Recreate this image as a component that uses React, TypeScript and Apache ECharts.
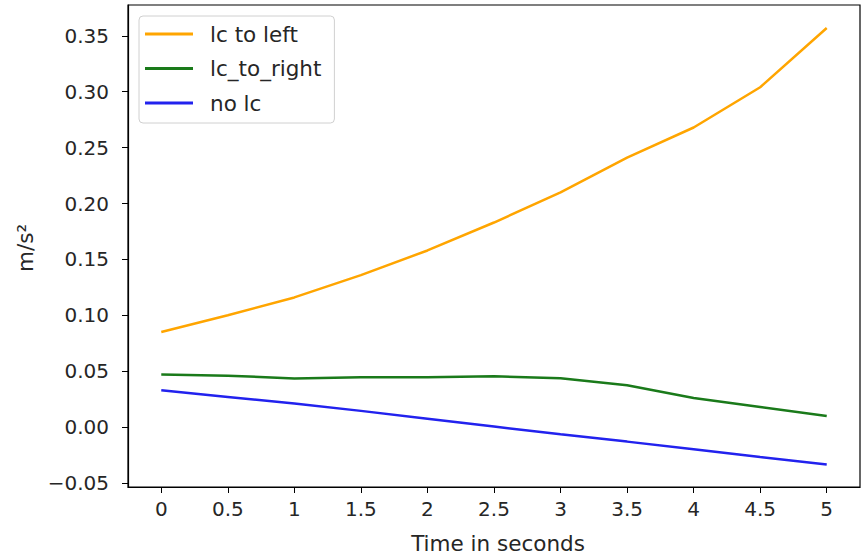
import React, { useEffect, useRef } from "react";
import * as echarts from "echarts";

const times = [0, 0.5, 1, 1.5, 2, 2.5, 3, 3.5, 4, 4.5, 5];
const lcToLeft = [0.085, 0.100, 0.116, 0.136, 0.158, 0.183, 0.210, 0.241, 0.268, 0.304, 0.357];
const lcToRight = [0.047, 0.046, 0.0435, 0.0445, 0.0445, 0.0455, 0.0437, 0.0375, 0.026, 0.018, 0.010];
const noLc = [0.033, 0.027, 0.021, 0.0145, 0.0075, 0.0005, -0.0065, -0.013, -0.0198, -0.0268, -0.0335];
const xTicks = [0, 0.5, 1, 1.5, 2, 2.5, 3, 3.5, 4, 4.5, 5];
const yTicks = [-0.05, 0, 0.05, 0.1, 0.15, 0.2, 0.25, 0.3, 0.35];
const seriesNames = ["lc to left", "lc_to_right", "no lc"];
const seriesColors = ["#FFA500", "#1a7a1a", "#2222ee"];

const FONT = "DejaVu Sans";
const FS_TICK = 20;
const FS_TXT = 21.5;
const TXT = "#262626";

export default function App() {
  const ref = useRef<HTMLDivElement>(null);
  useEffect(() => {
    if (!ref.current) return;
    const chart = echarts.init(ref.current, null, { renderer: "svg" });
    const allSeries = [lcToLeft, lcToRight, noLc];
    chart.setOption({
      animation: false,
      backgroundColor: "#ffffff",
      grid: {
        left: 128,
        top: 5,
        right: 2,
        bottom: 69,
        show: true,
        borderColor: "#000",
        borderWidth: 1.2,
        backgroundColor: "transparent",
      },
      legend: {
        orient: "vertical",
        left: 139,
        top: 16,
        padding: [7, 13, 9, 6],
        itemGap: 12.5,
        itemWidth: 48,
        itemHeight: 3,
        icon: "rect",
        borderColor: "#d0d0d0",
        borderWidth: 1,
        borderRadius: 4,
        backgroundColor: "rgba(255,255,255,0.8)",
        textStyle: { fontFamily: FONT, fontSize: FS_TXT, color: TXT, lineHeight: 22, padding: [0, 0, 0, 12] },
        data: seriesNames,
      },
      xAxis: {
        type: "value",
        min: -0.25,
        max: 5.25,
        axisLine: { show: true, onZero: false, lineStyle: { color: "#000", width: 1.2 } },
        axisTick: { show: true, length: 6, customValues: xTicks, lineStyle: { color: "#000" } },
        axisLabel: {
          customValues: xTicks,
          margin: 12,
          fontFamily: FONT,
          fontSize: FS_TICK,
          color: TXT,
          formatter: (v: number) => String(v),
        },
        splitLine: { show: false },
      },
      yAxis: {
        type: "value",
        min: -0.0536,
        max: 0.3776,
        axisLine: { show: true, onZero: false, lineStyle: { color: "#000", width: 1.2 } },
        axisTick: { show: true, length: 6, customValues: yTicks, lineStyle: { color: "#000" } },
        axisLabel: {
          customValues: yTicks,
          margin: 19,
          fontFamily: FONT,
          fontSize: FS_TICK,
          color: TXT,
          formatter: (v: number) => (v < 0 ? "\u2212" + Math.abs(v).toFixed(2) : v.toFixed(2)),
        },
        splitLine: { show: false },
      },
      graphic: [
        {
          type: "text",
          x: 25,
          y: 248,
          rotation: Math.PI / 2,
          style: {
            text: "m/s²",
            fontFamily: FONT,
            fontSize: FS_TXT,
            fill: TXT,
            align: "center",
            verticalAlign: "middle",
          },
        },
        {
          type: "text",
          x: 498,
          y: 543,
          style: {
            text: "Time in seconds",
            fontFamily: FONT,
            fontSize: FS_TXT,
            fill: TXT,
            align: "center",
            verticalAlign: "middle",
          },
        },
      ],
      series: seriesNames.map((name, i) => ({
        name,
        type: "line",
        data: times.map((t, j) => [t, allSeries[i][j]]),
        showSymbol: false,
        symbol: "none",
        smooth: false,
        color: seriesColors[i],
        lineStyle: { color: seriesColors[i], width: 2.5 },
      })),
    });
    return () => chart.dispose();
  }, []);
  return <div ref={ref} style={{ width: 862, height: 556, position: "absolute", left: 0, top: 0 }} />;
}
